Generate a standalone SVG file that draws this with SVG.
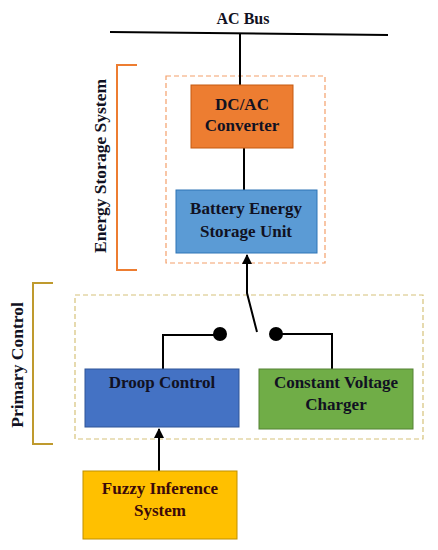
<svg xmlns="http://www.w3.org/2000/svg" width="438" height="550" viewBox="0 0 438 550">
<style>
text{font-family:"Liberation Serif","DejaVu Serif",serif;font-weight:bold;font-size:17px;text-anchor:middle;fill:#111122}
.w{stroke:#000;stroke-width:2;fill:none}
</style>
<defs>
<marker id="ah" viewBox="0 0 10 10" refX="9" refY="5" markerWidth="5" markerHeight="5" orient="auto"><path d="M0,0L10,5L0,10z" fill="#000"/></marker>
</defs>
<rect width="438" height="550" fill="#fff"/>
<g id="ac-bus">
<line x1="110" y1="32" x2="388" y2="35" stroke="#000" stroke-width="2"/>
<text x="243" y="24" style="font-size:16px">AC Bus</text>
</g>
<g id="ess-group">
<rect x="166" y="76" width="159" height="187" fill="none" stroke="#F4A06B" stroke-width="1.2" stroke-dasharray="5,3"/>
<path d="M137,65H117V270H137" fill="none" stroke="#ED7D31" stroke-width="2"/>
<text transform="translate(106,166) rotate(-90)" style="font-size:17.5px">Energy Storage System</text>
</g>
<g id="primary-group">
<rect x="75" y="295" width="348" height="144" fill="none" stroke="#D6C27A" stroke-width="1.2" stroke-dasharray="5,3"/>
<path d="M53,283H33V444H53" fill="none" stroke="#BF9A2E" stroke-width="2"/>
<text transform="translate(23,365) rotate(-90)" style="font-size:17.5px">Primary Control</text>
</g>
<g id="connectors">
<line x1="240" y1="33" x2="240" y2="85" class="w"/>
<line x1="244" y1="148" x2="244" y2="190" class="w"/>
<path d="M257,332L247,293V255" class="w" marker-end="url(#ah)"/>
<path d="M163,369V335H220" class="w"/>
<path d="M276,334H332V369" class="w"/>
<circle cx="220" cy="334" r="7" fill="#000"/>
<circle cx="276" cy="334" r="7" fill="#000"/>
<line x1="159" y1="471" x2="159" y2="429" class="w" marker-end="url(#ah)"/>
</g>
<g id="dcac">
<rect x="191" y="85" width="102" height="63" fill="#ED7D31" stroke="#C55A11" stroke-width="1"/>
<text x="242" y="110">DC/AC</text>
<text x="242" y="131">Converter</text>
</g>
<g id="battery">
<rect x="176" y="190" width="141" height="63" fill="#5B9BD5" stroke="#2E75B6" stroke-width="1"/>
<text x="246" y="214">Battery Energy</text>
<text x="246" y="237">Storage Unit</text>
</g>
<g id="droop">
<rect x="85" y="369" width="154" height="58" fill="#4472C4" stroke="#2F5597" stroke-width="1"/>
<text x="162" y="388">Droop Control</text>
</g>
<g id="cvc">
<rect x="259" y="369" width="154" height="60" fill="#70AD47" stroke="#548235" stroke-width="1"/>
<text x="336" y="388">Constant Voltage</text>
<text x="336" y="410">Charger</text>
</g>
<g id="fuzzy">
<rect x="83" y="471" width="154" height="68" fill="#FFC000" stroke="#BF9000" stroke-width="1"/>
<text x="160" y="494" style="fill:#3B0A0A">Fuzzy Inference</text>
<text x="160" y="516" style="fill:#3B0A0A">System</text>
</g>
</svg>
